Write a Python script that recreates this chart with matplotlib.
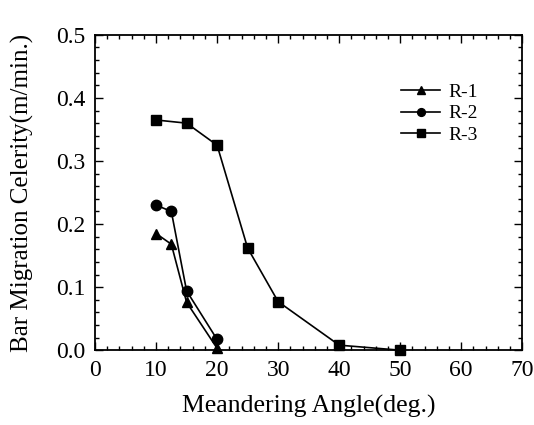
import numpy as np
import matplotlib
matplotlib.use("Agg")
import matplotlib.pyplot as plt
from matplotlib.ticker import MultipleLocator

plt.rcParams['font.family'] = ['Liberation Serif', 'DejaVu Serif']

# data
r1_x = [10, 12.5, 15, 20]
r1_y = [0.185, 0.168, 0.076, 0.003]
r2_x = [10, 12.5, 15, 20]
r2_y = [0.230, 0.220, 0.094, 0.017]
r3_x = [10, 15, 20, 25, 30, 40, 50]
r3_y = [0.365, 0.360, 0.325, 0.162, 0.077, 0.008, 0.0]

fig = plt.figure(figsize=(5.34, 4.25), dpi=100)
ax = fig.add_axes([0.178, 0.176, 0.800, 0.742])

ax.plot(r1_x, r1_y, '-^', color='black', lw=1.2, ms=7.5, label='R-1', clip_on=False)
ax.plot(r2_x, r2_y, '-o', color='black', lw=1.2, ms=7.5, label='R-2', clip_on=False)
ax.plot(r3_x, r3_y, '-s', color='black', lw=1.2, ms=7.5, label='R-3', clip_on=False)

ax.set_xlim(0, 70)
ax.set_ylim(0, 0.5)
ax.xaxis.set_major_locator(MultipleLocator(10))
ax.xaxis.set_minor_locator(MultipleLocator(2))
ax.yaxis.set_major_locator(MultipleLocator(0.1))
ax.yaxis.set_minor_locator(MultipleLocator(0.02))
ax.tick_params(which='both', direction='in', top=True, right=True, labelsize=17)
ax.tick_params(which='major', length=6, width=1, pad=7)
ax.tick_params(which='minor', length=3, width=1)
for s in ax.spines.values():
    s.set_linewidth(1.3)

ax.set_xlabel('Meandering Angle(deg.)', fontsize=18.5, labelpad=10)
ax.set_ylabel('Bar Migration Celerity(m/min.)', fontsize=18, labelpad=16)

ax.legend(loc='center left', bbox_to_anchor=(0.717, 0.75), frameon=False,
          fontsize=14, handlelength=2.0, handletextpad=0.4, labelspacing=0.2,
          borderpad=0, borderaxespad=0, markerscale=0.75)

fig.savefig('out.png', dpi=100)
